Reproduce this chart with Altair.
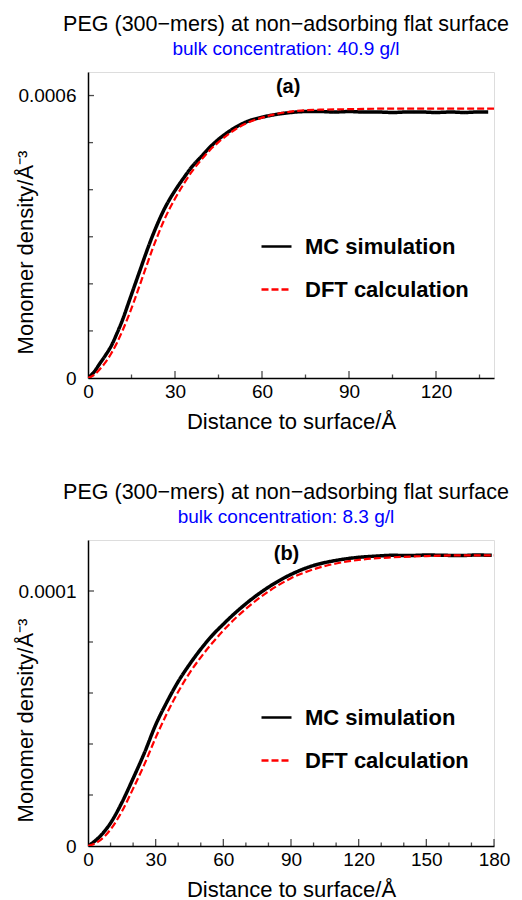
import altair as alt
import pandas as pd

FONT = "Liberation Sans"
SERIES = ["MC simulation", "DFT calculation"]

# ---------------- panel (a): bulk concentration 40.9 g/l ----------------
a_mc_x = [0, 2, 4, 6, 8, 10, 12, 14, 16, 18, 20, 22, 24, 26, 28, 30, 33, 36, 39, 42, 45, 48, 51, 55,
          60, 65, 70, 75, 80, 85, 90, 95, 100, 105, 110, 115, 120, 125, 130, 134, 138]
a_mc_y = [0.0, 0.000012, 0.000030, 0.000048, 0.000068, 0.000095, 0.000125, 0.000160, 0.000195,
          0.000230, 0.000265, 0.000298, 0.000328, 0.000355, 0.000378, 0.000398, 0.000425, 0.000450,
          0.000470, 0.000490, 0.000507, 0.000521, 0.000533, 0.000545, 0.000554, 0.000560, 0.000564,
          0.000566, 0.000566, 0.000565, 0.000566, 0.000565, 0.000565, 0.000564, 0.000565, 0.000565,
          0.000564, 0.000565, 0.000564, 0.000565, 0.000565]
a_dft_x = [0, 2, 4, 6, 8, 10, 12, 14, 16, 18, 20, 22, 24, 26, 28, 30, 33, 36, 39, 42, 45, 48, 51, 55,
           60, 65, 70, 80, 90, 100, 120, 140]
a_dft_y = [0.0, 0.000006, 0.000018, 0.000033, 0.000052, 0.000075, 0.000102, 0.000132, 0.000165,
           0.000200, 0.000235, 0.000270, 0.000302, 0.000332, 0.000358, 0.000381, 0.000412, 0.000440,
           0.000463, 0.000484, 0.000501, 0.000516, 0.000529, 0.000542, 0.000553, 0.000561, 0.000566,
           0.000570, 0.000571, 0.000572, 0.000572, 0.000572]
a_x_major = [0, 30, 60, 90, 120]
a_x_minor = [15, 45, 75, 105, 135]
a_y_major = [0, 0.0006]
a_y_minor = [0.0001, 0.0002, 0.0003, 0.0004, 0.0005]
a_x_max = 140
a_y_max = 0.00065
a_subtitle = "bulk concentration: 40.9 g/l"
a_tag = "(a)"
a_tag_x = 69
a_tag_y = 0.000619

# ---------------- panel (b): bulk concentration 8.3 g/l ----------------
b_mc_x = [0, 5, 10, 15, 20, 25, 30, 35, 40, 45, 50, 55, 60, 65, 70, 80, 90, 100, 110, 120, 128,
          135, 142, 150, 158, 165, 172, 179]
b_mc_y = [0.0, 0.0000035, 0.0000090, 0.0000170, 0.0000265, 0.0000365, 0.0000475, 0.0000565,
          0.0000645, 0.0000712, 0.0000772, 0.0000825, 0.0000870, 0.0000912, 0.0000950, 0.0001015,
          0.0001065, 0.0001100, 0.0001120, 0.0001132, 0.0001137, 0.0001140, 0.0001139, 0.0001141,
          0.0001140, 0.0001139, 0.0001141, 0.0001140]
b_dft_x = [0, 5, 10, 15, 20, 25, 30, 35, 40, 45, 50, 55, 60, 65, 70, 80, 90, 100, 110, 120, 135,
           150, 165, 180]
b_dft_y = [0.0, 0.0000020, 0.0000065, 0.0000135, 0.0000225, 0.0000320, 0.0000425, 0.0000520,
           0.0000605, 0.0000678, 0.0000740, 0.0000795, 0.0000845, 0.0000890, 0.0000930, 0.0000998,
           0.0001050, 0.0001085, 0.0001108, 0.0001122, 0.0001132, 0.0001137, 0.0001140, 0.0001140]
b_x_major = [0, 30, 60, 90, 120, 150, 180]
b_x_minor = [10, 20, 40, 50, 70, 80, 100, 110, 130, 140, 160, 170]
b_y_major = [0, 0.0001]
b_y_minor = [0.00002, 0.00004, 0.00006, 0.00008]
b_x_max = 180
b_y_max = 0.00012
b_subtitle = "bulk concentration: 8.3 g/l"
b_tag = "(b)"
b_tag_x = 88
b_tag_y = 0.0001145

MAIN_TITLE = "PEG (300\u2212mers) at non\u2212adsorbing flat surface"
X_TITLE = "Distance to surface/\u00c5"
Y_TITLE = "Monomer density/\u00c5\u207b\u00b3"


def panel(mc_x, mc_y, dft_x, dft_y, x_major, x_minor, y_major, y_minor, x_max, y_max,
          subtitle, tag, tag_x, tag_y, legend_y):
    mc = pd.DataFrame({"d": mc_x, "v": mc_y, "series": SERIES[0]})
    dft = pd.DataFrame({"d": dft_x, "v": dft_y, "series": SERIES[1]})
    xs = alt.Scale(domain=[0, x_max], nice=False, zero=False)
    ys = alt.Scale(domain=[0, y_max], nice=False, zero=False)

    legend = alt.Legend(
        title=None, orient="none", legendX=172, legendY=legend_y,
        symbolType="stroke", symbolSize=900, symbolStrokeWidth=2.5,
        labelFont=FONT, labelFontSize=22, labelFontWeight="bold", labelColor="black",
        labelOffset=12, rowPadding=15, padding=0, labelLimit=300,
    )
    color = alt.Color("series:N", scale=alt.Scale(domain=SERIES, range=["#000000", "#ff0000"]),
                      legend=legend)
    dash = alt.StrokeDash("series:N", scale=alt.Scale(domain=SERIES, range=[[1, 0], [7, 3]]),
                          legend=legend)

    x_axis = alt.Axis(values=x_major, title=X_TITLE, grid=False, ticks=False,
                      labelFont=FONT, labelFontSize=19, labelColor="black", labelPadding=4,
                      titleFont=FONT, titleFontSize=22, titleFontWeight="normal",
                      titleColor="black", titlePadding=10, domainColor="black", domainWidth=1.5,
                      labelFlush=False)
    y_axis = alt.Axis(values=y_major, title=Y_TITLE, grid=False, ticks=False,
                      labelExpr="datum.value == 0 ? '0' : format(datum.value, '.4f')",
                      labelFont=FONT, labelFontSize=19, labelColor="black", labelPadding=12,
                      titleFont=FONT, titleFontSize=22, titleFontWeight="normal",
                      titleColor="black", titleAngle=-90, titleX=-63, titleY=180,
                      titleAlign="center", titleBaseline="middle",
                      domainColor="black", domainWidth=1.5, labelFlush=False)

    def X(field):
        return alt.X(field, scale=xs, axis=x_axis, title=X_TITLE)

    def Y(field):
        return alt.Y(field, scale=ys, axis=y_axis, title=Y_TITLE)

    mc_line = alt.Chart(mc).mark_line(strokeWidth=3.5, clip=True, interpolate="monotone").encode(
        x=X("d:Q"), y=Y("v:Q"), color=color, strokeDash=dash,
    )
    dft_line = alt.Chart(dft).mark_line(strokeWidth=2.2, clip=True, interpolate="monotone").encode(
        x=X("d:Q"), y=Y("v:Q"), color=color, strokeDash=dash,
    )

    def xticks(vals, size):
        return alt.Chart(pd.DataFrame({"d": vals, "v": [0] * len(vals)})).mark_tick(
            orient="vertical", size=size, thickness=1.3, color="black", yOffset=-size / 2
        ).encode(x=X("d:Q"), y=Y("v:Q"))

    def yticks(vals, size):
        return alt.Chart(pd.DataFrame({"v": vals, "d": [0] * len(vals)})).mark_tick(
            orient="horizontal", size=size, thickness=1.3, color="black", xOffset=size / 2
        ).encode(y=Y("v:Q"), x=X("d:Q"))

    tag_layer = alt.Chart(pd.DataFrame({"d": [tag_x], "v": [tag_y], "t": [tag]})).mark_text(
        font=FONT, fontSize=20, fontWeight="bold", color="black", baseline="middle", align="center"
    ).encode(x=X("d:Q"), y=Y("v:Q"), text="t:N")

    return alt.layer(
        mc_line, dft_line,
        xticks([v for v in x_major if v != 0], 7), xticks(x_minor, 3.5),
        yticks([v for v in y_major if v != 0], 6), yticks(y_minor, 5),
        tag_layer,
    ).properties(
        width=406, height=306,
        title=alt.TitleParams(
            text=MAIN_TITLE, subtitle=subtitle, anchor="middle", frame="group",
            font=FONT, fontSize=21.5, fontWeight="normal", color="black",
            subtitleFont=FONT, subtitleFontSize=19, subtitleColor="#0000ff",
            subtitlePadding=5, offset=13, dx=-5,
        ),
    )


top = panel(a_mc_x, a_mc_y, a_dft_x, a_dft_y, a_x_major, a_x_minor, a_y_major, a_y_minor,
            a_x_max, a_y_max, a_subtitle, a_tag, a_tag_x, a_tag_y, 158)
bottom = panel(b_mc_x, b_mc_y, b_dft_x, b_dft_y, b_x_major, b_x_minor, b_y_major, b_y_minor,
               b_x_max, b_y_max, b_subtitle, b_tag, b_tag_x, b_tag_y, 161)

chart = alt.vconcat(top, bottom, spacing=48).resolve_scale(
    x="independent", y="independent", color="independent", strokeDash="independent"
).resolve_legend(color="independent", strokeDash="independent").configure_view(
    stroke=None
).configure(background="white", padding={"left": 5, "top": 5, "right": 0, "bottom": 0})

chart.save("out.html", embed_options={"renderer": "svg", "actions": False})
